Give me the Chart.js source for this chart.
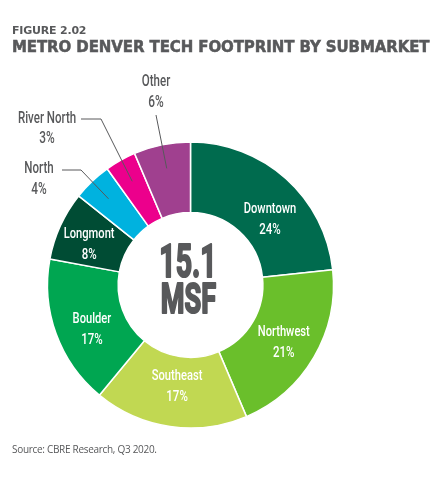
<!DOCTYPE html>
<html>
<head>
<meta charset="utf-8">
<script src="https://cdn.jsdelivr.net/npm/chart.js@4.4.0/dist/chart.umd.min.js"></script>
<style>
  html, body { margin:0; padding:0; background:#fff; }
  #wrap { position:relative; width:443px; height:481px; overflow:hidden; }
  #c { position:absolute; left:0; top:0; }
  .fig { position:absolute; left:12px; top:24px; font-family:"DejaVu Sans"; font-weight:bold; font-size:11px; color:#58595b; letter-spacing:-0.2px; }
  .title { position:absolute; left:12px; top:38px; font-family:"DejaVu Sans"; font-weight:bold; font-size:15px; color:#58595b; white-space:nowrap; letter-spacing:-0.1px; -webkit-text-stroke:0.5px #58595b; }
  .src { position:absolute; left:12px; top:442px; font-family:"Open Sans"; font-size:10px; color:#58595b; white-space:nowrap; letter-spacing:-0.3px; }
</style>
</head>
<body>
<div id="wrap">
  <canvas id="c" width="443" height="481"></canvas>
  <div class="fig">FIGURE 2.02</div>
  <div class="title">METRO DENVER TECH FOOTPRINT BY SUBMARKET</div>
  <div class="src">Source: CBRE Research, Q3 2020.</div>
</div>
<script>
// ---- data ----
const categories = ["Downtown", "Northwest", "Southeast", "Boulder", "Longmont", "North", "River North", "Other"];
const shares = [23.3, 20.3, 17.4, 16.9, 7.8, 4.4, 3.5, 6.4];          // slice sizes (%)
const shareLabels = ["24%", "21%", "17%", "17%", "8%", "4%", "3%", "6%"]; // printed labels
const centerLines = ["15.1", "MSF"];

// ---- styles ----
const colors = ["#006b4e", "#6abf2b", "#c1d852", "#00a651", "#004c34", "#00b2df", "#ec008c", "#a0408f"];
const grey = "#58595b";
const COND = 'Roboto';

// inside label tweaks (pixel offsets from ring centroid)
const insideOffsets = { 0:[8,14], 1:[1,3], 2:[2,-4], 3:[2,8], 4:[-4,4] };
// outside label layout: text centre, and leader path before reaching the slice
const outside = {
  7: { tx:156, ty:82, py:103, path:[[156,115]] },
  6: { tx:47, ty:119, py:139, path:[[81,119],[101,119]] },
  5: { tx:39, ty:169, py:190, path:[[62,170],[81,170]] }
};

function condText(ctx, text, x, y, font, color, sx, stroke) {
  ctx.save();
  ctx.font = font;
  ctx.fillStyle = color;
  ctx.textAlign = 'center';
  ctx.textBaseline = 'middle';
  ctx.translate(x, y);
  ctx.scale(sx, 1);
  ctx.fillText(text, 0, 0);
  if (stroke) {
    ctx.strokeStyle = color;
    ctx.lineWidth = stroke;
    ctx.lineJoin = 'round';
    ctx.strokeText(text, 0, 0);
  }
  ctx.restore();
}

const labelPlugin = {
  id: 'sliceLabels',
  afterDatasetsDraw(chart) {
    const ctx = chart.ctx;
    const meta = chart.getDatasetMeta(0);
    meta.data.forEach((arc, i) => {
      const p = arc.getProps(['x','y','startAngle','endAngle','innerRadius','outerRadius'], true);
      const mid = (p.startAngle + p.endAngle) / 2;
      if (insideOffsets[i]) {
        const r = 107;
        const cx = p.x + r * Math.cos(mid) + insideOffsets[i][0];
        const cy = p.y + r * Math.sin(mid) + insideOffsets[i][1];
        condText(ctx, categories[i], cx, cy - 10.5, '500 15.5px ' + COND, '#ffffff', 0.72);
        condText(ctx, shareLabels[i], cx, cy + 10.5, '500 15.5px ' + COND, '#ffffff', 0.74);
      } else if (outside[i]) {
        const o = outside[i];
        condText(ctx, categories[i], o.tx, o.ty, '500 16px ' + COND, grey, 0.72);
        condText(ctx, shareLabels[i], o.tx, o.py, '500 16px ' + COND, grey, 0.74);
        const r = p.innerRadius + 0.66 * (p.outerRadius - p.innerRadius);
        const ex = p.x + r * Math.cos(mid), ey = p.y + r * Math.sin(mid);
        ctx.save();
        ctx.strokeStyle = grey;
        ctx.lineWidth = 1;
        ctx.beginPath();
        ctx.moveTo(o.path[0][0], o.path[0][1]);
        for (let k = 1; k < o.path.length; k++) ctx.lineTo(o.path[k][0], o.path[k][1]);
        ctx.lineTo(ex, ey);
        ctx.stroke();
        ctx.restore();
      }
    });
    const a0 = meta.data[0];
    condText(ctx, centerLines[0], a0.x - 2.5, a0.y - 20, 'bold 46px ' + COND, grey, 0.62, 2.2);
    condText(ctx, centerLines[1], a0.x - 2, a0.y + 17.5, 'bold 43px ' + COND, grey, 0.63, 2.2);
  }
};

new Chart(document.getElementById('c'), {
  type: 'doughnut',
  data: {
    labels: categories,
    datasets: [{
      data: shares,
      backgroundColor: colors,
      borderColor: '#ffffff',
      borderWidth: 1.5
    }]
  },
  options: {
    responsive: false,
    animation: false,
    radius: 143,
    cutout: 72,
    layout: { padding: { left: 47, right: 109, top: 142, bottom: 53 } },
    plugins: { legend: { display: false }, tooltip: { enabled: false } }
  },
  plugins: [labelPlugin]
});
</script>
</body>
</html>
